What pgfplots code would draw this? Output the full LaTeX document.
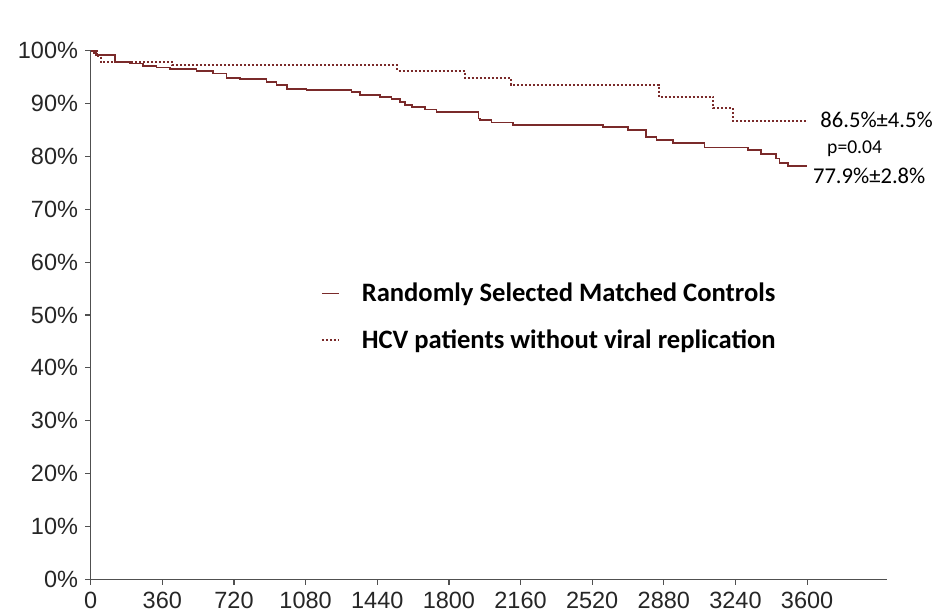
\documentclass[border=0pt]{standalone}
\usepackage{pgfplots}
\pgfplotsset{compat=1.18}
\usepackage{fontspec}
\setmainfont{Liberation Sans}
\newfontfamily\carlito{Carlito}

\definecolor{km}{RGB}{122,42,42}
\definecolor{axisgray}{RGB}{80,80,80}

% survival (%) by day, step functions
\pgfplotstableread{
x y
0 100
15 99.6
25 99.2
122 97.9
197 97.6
264 97.1
331 96.8
398 96.5
532 96.2
616 95.7
683 94.9
750 94.6
884 94.1
934 93.5
985 92.8
1085 92.6
1311 92.2
1353 91.6
1454 91.3
1512 90.9
1554 90.3
1579 89.7
1613 89.3
1680 88.9
1738 88.4
1948 87.2
1956 86.9
2014 86.4
2123 85.9
2575 85.5
2701 85.0
2792 83.7
2843 83.1
2926 82.6
3085 81.7
3303 81.2
3370 80.4
3445 79.6
3462 78.8
3504 78.2
3600 78.2
}\controls

\pgfplotstableread{
x y
0 100
30 99.0
50 97.8
410 97.2
1540 96.2
1880 94.9
2110 93.6
2855 91.3
3128 89.1
3228 86.7
3603 86.7
}\hcv

\begin{document}
\begin{tikzpicture}[x=1pt,y=1pt]
\useasboundingbox (0,0) rectangle (467.5,307.5);
\begin{axis}[
  at={(45.35pt,17.85pt)}, anchor=south west,
  scale only axis, width=398pt, height=264.3pt,
  xmin=0, xmax=4000, ymin=0, ymax=100,
  axis x line=bottom, axis y line=left,
  axis line style={-, draw=axisgray, line width=0.6pt},
  tick align=outside, major tick length=2.8pt,
  tick style={draw=axisgray, line width=0.6pt},
  xtick={0,360,...,3600}, ytick={0,10,...,100},
  yticklabel={\pgfmathprintnumber{\tick}\%},
  /pgf/number format/1000 sep={},
  /pgf/number format/assume math mode=true,
  tick label style={font=\fontsize{11.75}{14}\selectfont, text=black!85},
  clip=false,
  legend style={draw=none, fill=none, at={(0.281,0.577)}, anchor=north west,
    font=\carlito\bfseries\fontsize{13.3}{16}\selectfont, row sep=8.5pt,
    /tikz/every odd column/.append style={column sep=9pt}},
  legend cell align=left,
  legend image code/.code={\draw[#1] (0pt,0pt) -- (8.5pt,0pt);},
]
\addplot[const plot, color=km, line width=0.85pt] table {\controls};
\addlegendentry{Randomly Selected Matched Controls}
\addplot[const plot, color=km, line width=1pt, densely dotted] table {\hcv};
\addlegendentry{HCV patients without viral replication}

\node[anchor=west, inner sep=0pt, font=\carlito\fontsize{11.3}{13}\selectfont] at (axis cs:3665,86.9) {86.5\%±4.5\%};
\node[anchor=west, inner sep=0pt, font=\carlito\fontsize{9.8}{11}\selectfont] at (axis cs:3699,81.4) {p=0.04};
\node[anchor=west, inner sep=0pt, font=\carlito\fontsize{11.3}{13}\selectfont] at (axis cs:3628,76.3) {77.9\%±2.8\%};
\end{axis}
\end{tikzpicture}
\end{document}
